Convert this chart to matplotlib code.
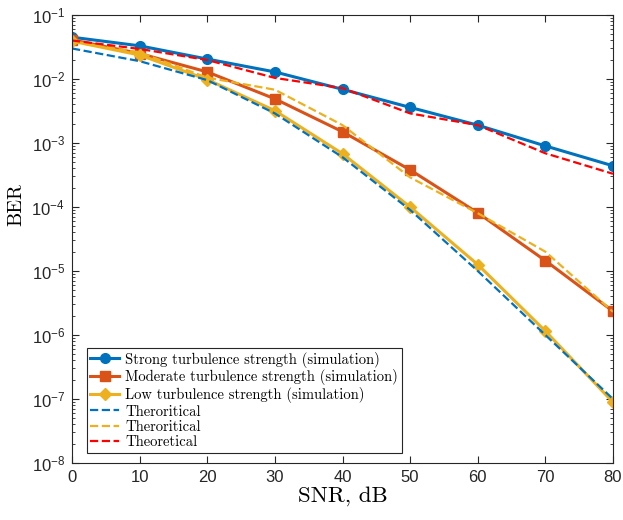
import numpy as np
import matplotlib
matplotlib.use('Agg')
from matplotlib import pyplot as plt
from matplotlib.ticker import LogLocator, FixedLocator, FuncFormatter, NullFormatter

plt.rcParams['font.family'] = ['Liberation Sans', 'DejaVu Sans']
plt.rcParams['mathtext.fontset'] = 'custom'
plt.rcParams['mathtext.rm'] = 'Liberation Sans'
plt.rcParams['mathtext.default'] = 'rm'
plt.rcParams['axes.unicode_minus'] = False

snr = [0, 10, 20, 30, 40, 50, 60, 70, 80]

# simulation
ber_strong = [0.045, 0.033, 0.0205, 0.0129, 0.0069, 0.0036, 0.0019, 0.00090, 0.00044]
ber_moderate = [0.041, 0.025, 0.0129, 0.0049, 0.0015, 0.00038, 8.1e-5, 1.45e-5, 2.35e-6]
ber_low = [0.039, 0.0237, 0.0098, 0.0032, 0.00068, 1.0e-4, 1.26e-5, 1.15e-6, 8.9e-8]

# theory
th_low = [0.030, 0.019, 0.0096, 0.0029, 0.0006, 9.0e-5, 1.0e-5, 1.0e-6, 1.0e-7]
th_moderate = [0.038, 0.026, 0.0105, 0.0068, 0.0019, 0.00029, 8.0e-5, 2.0e-5, 2.3e-6]
th_strong = [0.040, 0.0295, 0.0198, 0.0104, 0.0072, 0.0029, 0.0019, 0.00069, 0.00033]

labels = ['Strong turbulence strength (simulation)',
          'Moderate turbulence strength (simulation)',
          'Low turbulence strength (simulation)',
          'Theroritical', 'Theroritical', 'Theoretical']

c_blue, c_orange, c_yellow = '#0072BD', '#D95319', '#EDB120'

fig = plt.figure(figsize=(6.23, 5.2), dpi=100)
ax = fig.add_axes([72/623, 1-463/520, 541/623, 448/520])

ax.semilogy(snr, ber_strong, '-o', color=c_blue, lw=2.2, ms=7, label=labels[0])
ax.semilogy(snr, ber_moderate, '-s', color=c_orange, lw=2.2, ms=6.5, label=labels[1])
ax.semilogy(snr, ber_low, '-D', color=c_yellow, lw=2.2, ms=6.5, label=labels[2])
ax.semilogy(snr, th_low, '--', color=c_blue, lw=1.6, label=labels[3])
ax.semilogy(snr, th_moderate, '--', color=c_yellow, lw=1.6, label=labels[4])
ax.semilogy(snr, th_strong, '--', color='r', lw=1.6, label=labels[5])

ax.set_xlim(0, 80)
ax.set_ylim(1e-8, 1e-1)
ax.set_xticks(range(0, 81, 10))
ax.yaxis.set_major_locator(FixedLocator([10.0**k for k in range(-8, 0)]))
ax.yaxis.set_minor_locator(LogLocator(base=10, subs=np.arange(2, 10), numticks=20))
ax.yaxis.set_minor_formatter(NullFormatter())
ax.yaxis.set_major_formatter(FuncFormatter(lambda v, p: '$10^{%d}$' % round(np.log10(v))))

for s in ax.spines.values():
    s.set_color('#262626')
    s.set_linewidth(0.8)
ax.tick_params(which='both', direction='in', top=True, right=True, colors='#262626')
ax.tick_params(which='major', length=5, labelsize=12, pad=5)
ax.tick_params(which='minor', length=2.5)

ax.set_xlabel('SNR, dB', family='cmr10', fontsize=16.5, labelpad=1)
ax.set_ylabel('BER', family='cmr10', fontsize=14.5)
ax.yaxis.set_label_coords(-0.087, 0.576)

leg = ax.legend(loc='lower left', bbox_to_anchor=(0.027, 0.022), prop={'family': 'cmr10', 'size': 10.5},
                fancybox=False, edgecolor='#262626', framealpha=1, handlelength=2.0,
                handletextpad=0.4, labelspacing=0.12, borderpad=0.25, borderaxespad=0)
leg.get_frame().set_linewidth(0.8)

fig.savefig('out.png', dpi=100)
